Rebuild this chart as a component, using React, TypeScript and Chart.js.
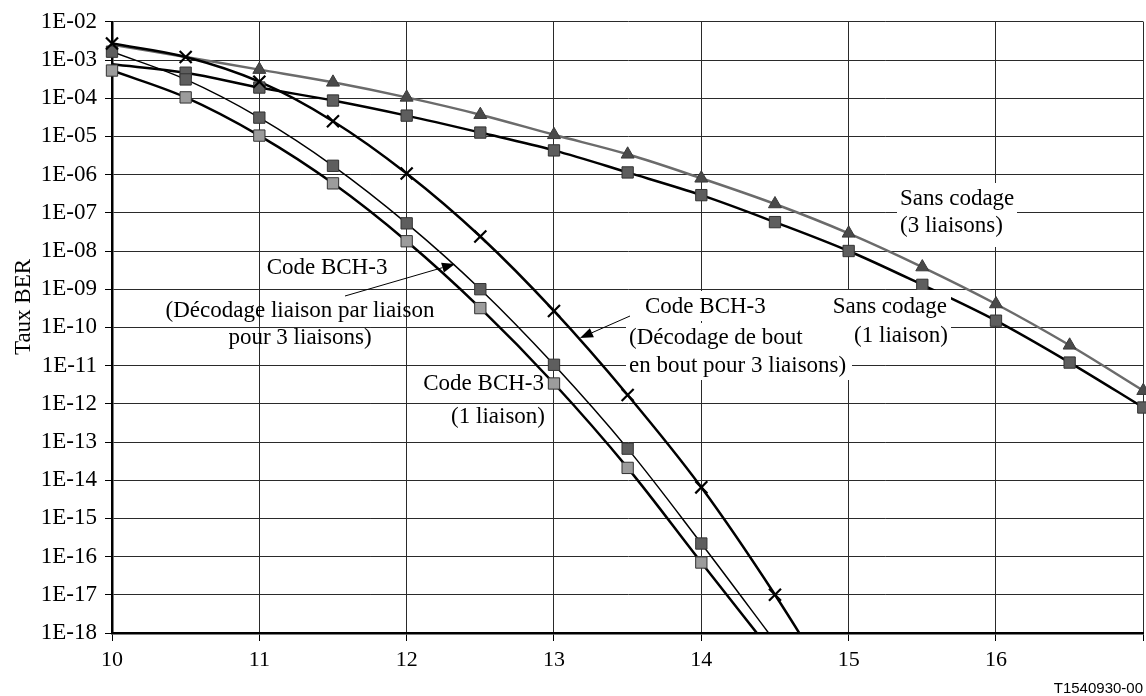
import React, { useEffect, useRef } from 'react';
import { Chart, registerables } from 'chart.js';

Chart.register(...registerables);

// ---- Data ----
const xValues = [10, 10.5, 11, 11.5, 12, 12.5, 13, 13.5, 14, 14.5, 15, 15.5, 16, 16.5, 17];

// Sans codage (3 liaisons) - triangles, grey line
const sansCodage3Liaisons = [2.5e-3, 1.2e-3, 5.6e-4, 2.6e-4, 1.05e-4, 3.7e-5, 1.1e-5, 3.4e-6, 8e-7, 1.7e-7, 2.9e-8, 3.8e-9, 4.1e-10, 3.4e-11, 2.2e-12];
// Sans codage (1 liaison) - dark squares
const sansCodage1Liaison = [7.7e-4, 4.65e-4, 1.9e-4, 8.7e-5, 3.5e-5, 1.26e-5, 4.3e-6, 1.14e-6, 2.9e-7, 5.7e-8, 1e-8, 1.3e-9, 1.5e-10, 1.2e-11, 8e-13];
// Code BCH-3 (decodage liaison par liaison pour 3 liaisons) - dark squares, thin line
const bch3Liaisons = [1.65e-3, 3.1e-4, 3.1e-5, 1.7e-6, 5.3e-8, 1e-9, 1.05e-11, 6.7e-14, 2.2e-16, 6e-19];
// Code BCH-3 (1 liaison) - light squares
const bch1Liaison = [5.3e-4, 1.05e-4, 1.05e-5, 5.9e-7, 1.8e-8, 3.2e-10, 3.4e-12, 2.1e-14, 7e-17, 2.5e-19];
// Code BCH-3 (decodage de bout en bout pour 3 liaisons) - crosses
const bchBoutEnBout = [2.7e-3, 1.2e-3, 2.7e-4, 2.5e-5, 1.07e-6, 2.4e-8, 2.7e-10, 1.7e-12, 6.5e-15, 1.0e-17, 8e-21];

const xTickValues = [10, 11, 12, 13, 14, 15, 16, 17];
const xTickLabels = ['10', '11', '12', '13', '14', '15', '16', ''];
const yTickValues = [1e-18, 1e-17, 1e-16, 1e-15, 1e-14, 1e-13, 1e-12, 1e-11, 1e-10, 1e-9, 1e-8, 1e-7, 1e-6, 1e-5, 1e-4, 1e-3, 1e-2];
const yTickLabels = ['1E-18', '1E-17', '1E-16', '1E-15', '1E-14', '1E-13', '1E-12', '1E-11', '1E-10', '1E-09', '1E-08', '1E-07', '1E-06', '1E-05', '1E-04', '1E-03', '1E-02'];

const yAxisTitle = 'Taux BER';
const footerText = 'T1540930-00';

const SERIF = "'Liberation Serif', 'Times New Roman', Times, serif";
const Y_MIN = 1e-18;

const toPoints = (ys: number[]) => ys.map((y, i) => ({ x: xValues[i], y }));

// Annotation layout (pixels)
const annotationBoxes = [
  [640, 291, 132, 30],
  [626, 323, 226, 57],
  [828, 290, 123, 57],
  [897, 183, 120, 64],
];
const annotationTexts: { t: string; x: number; y: number; align: CanvasTextAlign }[] = [
  { t: 'Code BCH-3', x: 327, y: 274, align: 'center' },
  { t: '(Décodage liaison par liaison', x: 300, y: 317, align: 'center' },
  { t: 'pour 3 liaisons)', x: 300, y: 344, align: 'center' },
  { t: 'Code BCH-3', x: 645, y: 313, align: 'left' },
  { t: '(Décodage de bout', x: 629, y: 344, align: 'left' },
  { t: 'en bout pour 3 liaisons)', x: 629, y: 372, align: 'left' },
  { t: 'Code BCH-3', x: 544, y: 390, align: 'right' },
  { t: '(1 liaison)', x: 545, y: 423, align: 'right' },
  { t: 'Sans codage', x: 947, y: 313, align: 'right' },
  { t: '(1 liaison)', x: 948, y: 342, align: 'right' },
  { t: 'Sans codage', x: 900, y: 205, align: 'left' },
  { t: '(3 liaisons)', x: 900, y: 232, align: 'left' },
];
const annotationArrows = [
  [345, 296, 455, 264],
  [630, 316, 580, 338],
];

const drawArrow = (ctx: CanvasRenderingContext2D, x1: number, y1: number, x2: number, y2: number) => {
  const ang = Math.atan2(y2 - y1, x2 - x1);
  const len = 13;
  const hw = 5;
  const bx = x2 - len * Math.cos(ang);
  const by = y2 - len * Math.sin(ang);
  ctx.beginPath();
  ctx.moveTo(x1, y1);
  ctx.lineTo(bx, by);
  ctx.strokeStyle = '#000';
  ctx.lineWidth = 1;
  ctx.stroke();
  ctx.beginPath();
  ctx.moveTo(x2, y2);
  ctx.lineTo(bx + hw * Math.sin(ang), by - hw * Math.cos(ang));
  ctx.lineTo(bx - hw * Math.sin(ang), by + hw * Math.cos(ang));
  ctx.closePath();
  ctx.fillStyle = '#000';
  ctx.fill();
};

const annotationPlugin = {
  id: 'annotationPlugin',
  afterDatasetsDraw(chart: any) {
    const ctx: CanvasRenderingContext2D = chart.ctx;
    ctx.save();
    ctx.fillStyle = '#fff';
    annotationBoxes.forEach(([x, y, w, h]) => ctx.fillRect(x, y, w, h));
    ctx.font = `23px ${SERIF}`;
    ctx.fillStyle = '#000';
    ctx.textBaseline = 'alphabetic';
    annotationTexts.forEach((a) => {
      ctx.textAlign = a.align;
      ctx.fillText(a.t, a.x, a.y);
    });
    annotationArrows.forEach(([x1, y1, x2, y2]) => drawArrow(ctx, x1, y1, x2, y2));
    ctx.restore();
  },
  afterDraw(chart: any) {
    const ctx: CanvasRenderingContext2D = chart.ctx;
    ctx.save();
    ctx.translate(30, 307);
    ctx.rotate(-Math.PI / 2);
    ctx.font = `23px ${SERIF}`;
    ctx.fillStyle = '#000';
    ctx.textAlign = 'center';
    ctx.textBaseline = 'alphabetic';
    ctx.fillText(yAxisTitle, 0, 0);
    ctx.restore();
    ctx.save();
    ctx.font = "15px 'Liberation Sans', Arial, sans-serif";
    ctx.fillStyle = '#000';
    ctx.textAlign = 'right';
    ctx.textBaseline = 'alphabetic';
    ctx.fillText(footerText, 1143, 693);
    ctx.restore();
  },
};

export default function App() {
  const canvasRef = useRef<HTMLCanvasElement | null>(null);

  useEffect(() => {
    if (!canvasRef.current) return;
    const markerCommon = { showLine: false, borderWidth: 0, pointBorderWidth: 1, pointHoverRadius: 0, clip: false };
    const lineCommon = { pointRadius: 0, pointHoverRadius: 0, tension: 0.35, fill: false };
    const radii = (ys: number[], r: number, hideFirst = 0) =>
      ys.map((v, i) => (i < hideFirst || v < Y_MIN ? 0 : r));

    const chart = new Chart(canvasRef.current, {
      type: 'line',
      data: {
        datasets: [
          {
            ...markerCommon,
            label: 'BCH-3 bout en bout (marqueurs)',
            data: toPoints(bchBoutEnBout),
            pointStyle: 'crossRot',
            pointRadius: radii(bchBoutEnBout, 8.5),
            pointBorderWidth: 2.2,
            pointBorderColor: '#000',
            pointBackgroundColor: '#000',
          },
          {
            ...markerCommon,
            label: 'BCH-3 1 liaison (marqueurs)',
            data: toPoints(bch1Liaison),
            pointStyle: 'rect',
            pointRadius: radii(bch1Liaison, 8),
            pointBackgroundColor: '#9c9c9c',
            pointBorderColor: '#333',
          },
          {
            ...markerCommon,
            label: 'BCH-3 3 liaisons (marqueurs)',
            data: toPoints(bch3Liaisons),
            pointStyle: 'rect',
            pointRadius: radii(bch3Liaisons, 8),
            pointBackgroundColor: '#5e5e5e',
            pointBorderColor: '#333',
          },
          {
            ...markerCommon,
            label: 'Sans codage 1 liaison (marqueurs)',
            data: toPoints(sansCodage1Liaison),
            pointStyle: 'rect',
            pointRadius: radii(sansCodage1Liaison, 8, 1),
            pointBackgroundColor: '#5e5e5e',
            pointBorderColor: '#333',
          },
          {
            ...markerCommon,
            label: 'Sans codage 3 liaisons (marqueurs)',
            data: toPoints(sansCodage3Liaisons),
            pointStyle: 'triangle',
            pointRadius: radii(sansCodage3Liaisons, 7.5, 2),
            pointBackgroundColor: '#4a4a4a',
            pointBorderColor: '#3a3a3a',
          },
          {
            ...lineCommon,
            label: 'BCH-3 bout en bout',
            data: toPoints(bchBoutEnBout),
            borderColor: '#000',
            borderWidth: 2.5,
          },
          {
            ...lineCommon,
            label: 'BCH-3 1 liaison',
            data: toPoints(bch1Liaison),
            borderColor: '#000',
            borderWidth: 2.5,
          },
          {
            ...lineCommon,
            label: 'BCH-3 3 liaisons',
            data: toPoints(bch3Liaisons),
            borderColor: '#000',
            borderWidth: 1.5,
          },
          {
            ...lineCommon,
            label: 'Sans codage 1 liaison',
            data: toPoints(sansCodage1Liaison),
            borderColor: '#000',
            borderWidth: 2.5,
          },
          {
            ...lineCommon,
            label: 'Sans codage 3 liaisons',
            data: toPoints(sansCodage3Liaisons),
            borderColor: '#6b6b6b',
            borderWidth: 2.5,
          },
        ],
      },
      options: {
        responsive: false,
        animation: false,
        devicePixelRatio: 1,
        layout: { padding: { left: 0, top: 20, right: 0, bottom: 0 } },
        plugins: {
          legend: { display: false },
          tooltip: { enabled: false },
          title: { display: false },
        },
        scales: {
          x: {
            type: 'linear',
            min: 10,
            max: 17,
            afterBuildTicks: (scale: any) => {
              scale.ticks = xTickValues.map((v) => ({ value: v }));
            },
            afterFit: (scale: any) => {
              scale.height = 63;
            },
            ticks: {
              autoSkip: false,
              maxRotation: 0,
              padding: 6,
              color: '#000',
              font: { family: SERIF, size: 22 },
              callback: (_v: any, i: number) => xTickLabels[i],
            },
            grid: { color: '#2a2a2a', lineWidth: 1, tickLength: 8, tickColor: '#000' },
            border: { color: '#000', width: 2.5 },
          },
          y: {
            type: 'logarithmic',
            min: Y_MIN,
            max: 1e-2,
            afterBuildTicks: (scale: any) => {
              scale.ticks = yTickValues.map((v) => ({ value: v }));
            },
            afterFit: (scale: any) => {
              scale.width = 112;
            },
            ticks: {
              autoSkip: false,
              padding: 8,
              color: '#000',
              font: { family: SERIF, size: 23 },
              callback: (v: any) => {
                const idx = yTickValues.findIndex((t) => Math.abs(Math.log10(t) - Math.log10(v)) < 1e-6);
                return idx >= 0 ? yTickLabels[idx] : '';
              },
            },
            grid: { color: '#2a2a2a', lineWidth: 1, tickLength: 7, tickColor: '#000' },
            border: { color: '#000', width: 2.5 },
          },
        },
      },
      plugins: [annotationPlugin],
    } as any);

    return () => chart.destroy();
  }, []);

  return (
    <div style={{ position: 'absolute', left: 0, top: 0, width: 1146, height: 696, overflow: 'hidden', background: '#fff' }}>
      <canvas ref={canvasRef} width={1154} height={696} style={{ display: 'block' }} />
    </div>
  );
}
